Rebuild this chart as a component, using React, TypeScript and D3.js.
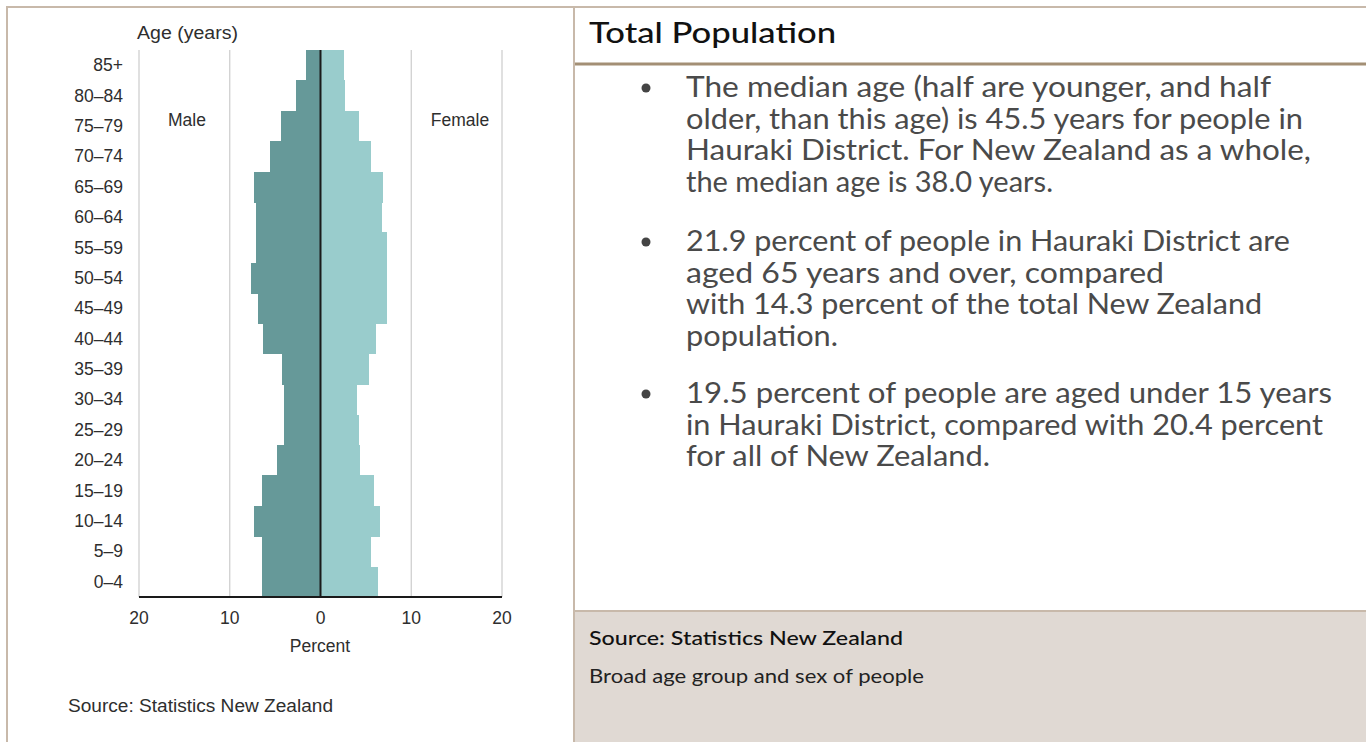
import React from "react";
import * as d3 from "d3";

const ageGroups = ["85+","80–84","75–79","70–74","65–69","60–64","55–59","50–54","45–49","40–44","35–39","30–34","25–29","20–24","15–19","10–14","5–9","0–4"];
const maleValues = [1.65,2.65,4.4,5.55,7.3,7.1,7.1,7.7,6.9,6.3,4.2,4.0,4.0,4.8,6.5,7.3,6.5,6.5];
const femaleValues = [2.6,2.75,4.2,5.55,6.9,6.75,7.3,7.3,7.3,6.15,5.35,4.0,4.2,4.4,5.95,6.55,5.55,6.3];
const xTickValues = [-20,-10,0,10,20];

const titleText = "Total Population";
const bullets: { lines: string[]; widths: number[] }[] = [
  { lines: ["The median age (half are younger, and half","older, than this age) is 45.5 years for people in","Hauraki District. For New Zealand as a whole,","the median age is 38.0 years."], widths: [585,617,625,367] },
  { lines: ["21.9 percent of people in Hauraki District are","aged 65 years and over, compared","with 14.3 percent of the total New Zealand","population."], widths: [604,478,576,152] },
  { lines: ["19.5 percent of people are aged under 15 years","in Hauraki District, compared with 20.4 percent","for all of New Zealand."], widths: [646,637,304] },
];

const MALE = "#669999";
const FEMALE = "#99cccc";
const BORDER = "#c8b9aa";

export default function App() {
  const x = d3.scaleLinear().domain([-20, 20]).range([139, 502]);
  const y = d3.scaleBand<string>().domain(ageGroups).range([50, 597]).padding(0);
  const sans = "'Liberation Sans', Arial, sans-serif";
  const rfont = "Lato, 'Noto Sans', sans-serif";
  const lineH = 31.7;
  const paraStarts = [97, 251, 403];
  const fs = 17.5;

  return (
    <svg width={1366} height={742} style={{ position: "absolute", left: 0, top: 0, background: "#fff" }}>
      {/* panel borders */}
      <rect x={574} y={611} width={792} height={131} fill="#e0d9d3" />
      <line x1={6} y1={7} x2={1366} y2={7} stroke={BORDER} strokeWidth={2} />
      <line x1={7} y1={6} x2={7} y2={742} stroke={BORDER} strokeWidth={2} />
      <line x1={574} y1={7} x2={574} y2={742} stroke={BORDER} strokeWidth={2} />
      <line x1={575} y1={64} x2={1366} y2={64} stroke="#a38f75" strokeWidth={3} />
      <line x1={575} y1={611} x2={1366} y2={611} stroke={BORDER} strokeWidth={2} />

      {/* gridlines */}
      {xTickValues.filter(v => v !== 0).map(v => (
        <line key={v} x1={x(v)} x2={x(v)} y1={50} y2={597} stroke="#cccccc" strokeWidth={1.2} />
      ))}

      {/* bars */}
      <g shapeRendering="crispEdges">
        {ageGroups.map((g, i) => (
          <g key={g}>
            <rect x={x(-maleValues[i])} y={y(g)} width={x(0) - x(-maleValues[i])} height={y.bandwidth() + 0.6} fill={MALE} />
            <rect x={x(0)} y={y(g)} width={x(femaleValues[i]) - x(0)} height={y.bandwidth() + 0.6} fill={FEMALE} />
          </g>
        ))}
      </g>
      <line x1={x(0)} x2={x(0)} y1={50} y2={597} stroke="#1a1a1a" strokeWidth={2} />
      <line x1={139} x2={502} y1={597} y2={597} stroke="#1a1a1a" strokeWidth={2} />

      {/* y labels */}
      {ageGroups.map(g => (
        <text key={g} x={123} y={(y(g) as number) + y.bandwidth() / 2 + 6} textAnchor="end" fontFamily={sans} fontSize={fs} fill="#2e2e2e">{g}</text>
      ))}
      {/* x labels */}
      {xTickValues.map(v => (
        <text key={v} x={x(v)} y={624} textAnchor="middle" fontFamily={sans} fontSize={fs} fill="#2e2e2e">{Math.abs(v)}</text>
      ))}
      <text x={137} y={39} fontFamily={sans} fontSize={fs} fill="#2e2e2e" textLength={101} lengthAdjust="spacingAndGlyphs">Age (years)</text>
      <text x={187} y={126} textAnchor="middle" fontFamily={sans} fontSize={fs} fill="#2e2e2e">Male</text>
      <text x={460} y={126} textAnchor="middle" fontFamily={sans} fontSize={fs} fill="#2e2e2e">Female</text>
      <text x={320} y={652} textAnchor="middle" fontFamily={sans} fontSize={fs} fill="#2e2e2e">Percent</text>
      <text x={68} y={712} fontFamily={sans} fontSize={fs} fill="#2e2e2e" textLength={265} lengthAdjust="spacingAndGlyphs">Source: Statistics New Zealand</text>

      {/* right panel */}
      <text x={589} y={43} fontFamily={rfont} fontSize={28} fill="#111" fontWeight={500} textLength={247} lengthAdjust="spacingAndGlyphs">{titleText}</text>
      {bullets.map((b, bi) => (
        <g key={bi}>
          <circle cx={646} cy={paraStarts[bi] - 9} r={4.5} fill="#444" />
          {b.lines.map((ln, li) => (
            <text key={li} x={686} y={paraStarts[bi] + li * lineH} fontFamily={rfont} fontSize={28} fill="#4a4a4a" textLength={b.widths[li]} lengthAdjust="spacingAndGlyphs">{ln}</text>
          ))}
        </g>
      ))}
      <text x={589} y={645} fontFamily={rfont} fontSize={20} fill="#111" fontWeight={500} textLength={314} lengthAdjust="spacingAndGlyphs">Source: Statistics New Zealand</text>
      <text x={589} y={683} fontFamily={rfont} fontSize={19} fill="#222" textLength={335} lengthAdjust="spacingAndGlyphs">Broad age group and sex of people</text>
    </svg>
  );
}
